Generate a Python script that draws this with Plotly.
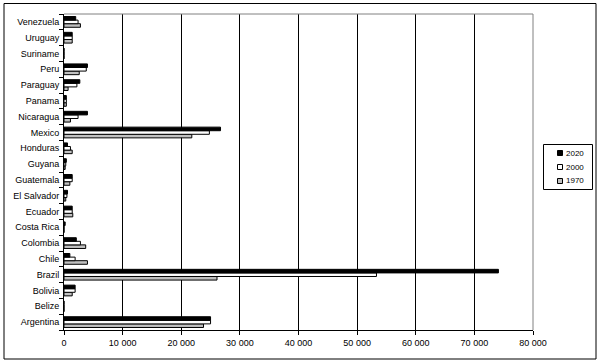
import plotly.graph_objects as go

countries = ["Argentina", "Belize", "Bolivia", "Brazil", "Chile", "Colombia", "Costa Rica",
             "Ecuador", "El Salvador", "Guatemala", "Guyana", "Honduras", "Mexico",
             "Nicaragua", "Panama", "Paraguay", "Peru", "Suriname", "Uruguay", "Venezuela"]

v2020 = [25000, 0, 1900, 74100, 1000, 2100, 200, 1400, 600, 1400, 400, 600, 26700,
         4000, 400, 2700, 4000, 0, 1400, 2000]
v2000 = [25000, 0, 1900, 53300, 1900, 2800, 0, 1400, 500, 1400, 300, 1100, 24800,
         2400, 400, 2200, 3800, 0, 1400, 2400]
v1970 = [23800, 0, 1400, 26100, 4000, 3700, 0, 1500, 300, 1000, 200, 1400, 21800,
         1100, 400, 700, 2600, 0, 1400, 2800]

xticks = [0, 10000, 20000, 30000, 40000, 50000, 60000, 70000, 80000]
xticklabels = ["0", "10 000", "20 000", "30 000", "40 000", "50 000", "60 000", "70 000", "80 000"]

series = [("2020", v2020, "#000000"), ("2000", v2000, "#ffffff"), ("1970", v1970, "#c0c0c0")]

font = dict(family="Liberation Sans, Arial, sans-serif", size=9, color="black")

# plot area in pixels
L, R, T, B = 64, 533, 14, 330
W, H = R - L, B - T


def px(x):
    return (x - L) / W


def py(y):
    return (B - y) / H


fig = go.Figure()
for name, vals, color in reversed(series):
    fig.add_trace(go.Bar(
        y=countries, x=vals, name=name, orientation="h",
        marker=dict(color=color, line=dict(color="black", width=1)),
    ))

shapes = [
    dict(type="line", xref="paper", yref="paper", x0=0, x1=1, y0=1, y1=1,
         line=dict(color="#808080", width=1), layer="above"),
    dict(type="line", xref="paper", yref="paper", x0=1, x1=1, y0=0, y1=1,
         line=dict(color="#808080", width=1), layer="above"),
    dict(type="rect", xref="paper", yref="paper",
         x0=px(4), x1=px(596), y0=py(359), y1=py(3.5),
         line=dict(color="black", width=1), layer="below"),
    # legend box
    dict(type="rect", xref="paper", yref="paper",
         x0=px(543.5), x1=px(592.5), y0=py(189.5), y1=py(144.5),
         line=dict(color="black", width=1), fillcolor="white", layer="above"),
]
annotations = []
for i, (name, vals, color) in enumerate(series):
    cy = 153 + 14 * i
    shapes.append(dict(type="rect", xref="paper", yref="paper",
                       x0=px(557.5), x1=px(562.5), y0=py(cy + 2.5), y1=py(cy - 2.5),
                       line=dict(color="black", width=1), fillcolor=color, layer="above"))
    annotations.append(dict(xref="paper", yref="paper", x=px(564), y=py(cy),
                            xanchor="left", yanchor="middle", text=name, showarrow=False,
                            font=dict(family="Liberation Sans, Arial, sans-serif", size=8, color="black")))

fig.update_layout(
    width=600, height=363,
    margin=dict(l=L, r=600 - R, t=T, b=363 - B),
    paper_bgcolor="white", plot_bgcolor="white",
    font=font,
    barmode="group", bargap=0.32, bargroupgap=0,
    showlegend=False,
    xaxis=dict(range=[0, 80000], tickvals=xticks, ticktext=xticklabels,
               showgrid=True, gridcolor="black", gridwidth=1,
               showline=True, linecolor="black", linewidth=1,
               ticks="outside", ticklen=4, tickcolor="black",
               zeroline=False, fixedrange=True),
    yaxis=dict(type="category", categoryorder="array", categoryarray=countries,
               showline=True, linecolor="black", linewidth=1,
               ticks="outside", ticklen=4, tickcolor="black", tickson="boundaries",
               ticklabelstandoff=2,
               showgrid=False, zeroline=False, fixedrange=True),
    shapes=shapes,
    annotations=annotations,
)

fig.write_html("out.html")
